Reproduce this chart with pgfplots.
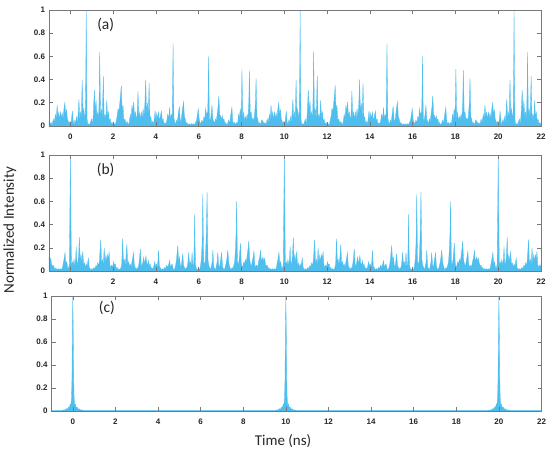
\documentclass[border=0pt]{standalone}
\usepackage{pgfplots}
\pgfplotsset{compat=1.18}
\usepackage{pgfplotstable}
\usepackage{fontspec}
\setmainfont{Carlito}
\newfontfamily\tickfont{Liberation Sans}

\definecolor{spk}{RGB}{77,190,238}
\definecolor{axgray}{RGB}{120,120,120}

% One 10 ns period of each intensity trace (the pattern repeats every 10 ns)
\pgfplotstableread{
t v
-1.05 0.05
-1.00 0.04
-0.95 0.02
-0.90 0.03
-0.85 0.01
-0.80 0.06
-0.75 0.03
-0.70 0.10
-0.66 0.06
-0.62 0.18
-0.58 0.08
-0.54 0.12
-0.50 0.05
-0.46 0.12
-0.42 0.07
-0.38 0.11
-0.34 0.06
-0.30 0.15
-0.26 0.20
-0.22 0.10
-0.18 0.14
-0.14 0.06
-0.10 0.04
-0.06 0.02
-0.02 0.04
0.02 0.01
0.06 0.07
0.09 0.13
0.13 0.04
0.17 0.01
0.21 0.05
0.25 0.02
0.28 0.08
0.32 0.03
0.36 0.10
0.40 0.23
0.44 0.06
0.48 0.12
0.51 0.05
0.55 0.40
0.59 0.10
0.63 0.15
0.67 0.05
0.70 0.12
0.72 0.45
0.74 1.00
0.76 0.45
0.78 0.06
0.82 0.01
0.86 0.02
0.90 0.01
0.95 0.04
0.99 0.06
1.03 0.01
1.07 0.10
1.12 0.31
1.16 0.12
1.20 0.22
1.24 0.08
1.28 0.12
1.32 0.05
1.35 0.30
1.37 0.64
1.41 0.08
1.45 0.15
1.49 0.06
1.54 0.43
1.58 0.05
1.62 0.10
1.66 0.05
1.70 0.22
1.74 0.08
1.78 0.12
1.82 0.04
1.86 0.06
1.90 0.02
1.95 0.03
2.00 0.01
2.05 0.02
2.10 0.01
2.15 0.05
2.19 0.09
2.23 0.15
2.27 0.12
2.31 0.20
2.35 0.28
2.38 0.35
2.42 0.12
2.46 0.18
2.50 0.05
2.55 0.06
2.60 0.02
2.65 0.04
2.70 0.01
2.75 0.03
2.80 0.10
2.84 0.06
2.88 0.18
2.92 0.12
2.96 0.21
3.00 0.08
3.04 0.12
3.08 0.05
3.12 0.10
3.16 0.30
3.20 0.08
3.24 0.12
3.28 0.05
3.32 0.12
3.36 0.06
3.40 0.15
3.44 0.08
3.48 0.18
3.52 0.40
3.56 0.10
3.60 0.20
3.64 0.08
3.68 0.37
3.72 0.06
3.76 0.08
3.80 0.02
3.84 0.04
3.88 0.01
3.92 0.06
3.96 0.13
4.00 0.05
4.04 0.11
4.08 0.06
4.12 0.12
4.16 0.04
4.20 0.08
4.26 0.13
4.30 0.04
4.34 0.06
4.38 0.01
4.42 0.03
4.46 0.01
4.50 0.04
4.55 0.10
4.59 0.06
4.64 0.16
4.68 0.05
4.72 0.10
4.76 0.08
4.78 0.35
4.80 0.71
4.82 0.35
4.84 0.07
4.88 0.03
4.92 0.02
4.96 0.05
5.00 0.03
5.04 0.10
5.09 0.17
5.13 0.06
5.17 0.03
5.21 0.10
5.25 0.16
5.29 0.21
5.33 0.08
5.37 0.06
5.41 0.02
5.45 0.03
5.50 0.01
5.55 0.02
5.60 0.01
5.65 0.02
5.70 0.01
5.75 0.02
5.80 0.01
5.85 0.03
5.90 0.05
5.94 0.10
5.98 0.15
6.02 0.06
6.06 0.03
6.10 0.02
6.15 0.05
6.20 0.03
6.24 0.08
6.28 0.05
6.32 0.15
6.36 0.10
6.42 0.12
6.44 0.30
6.46 0.60
6.48 0.30
6.50 0.06
6.54 0.05
6.58 0.10
6.62 0.18
6.66 0.06
6.70 0.04
6.74 0.02
6.78 0.06
6.82 0.04
6.86 0.10
6.90 0.16
6.94 0.26
6.98 0.10
7.02 0.09
7.06 0.05
7.10 0.09
7.14 0.05
7.18 0.06
7.22 0.02
7.26 0.03
7.30 0.01
7.35 0.02
7.40 0.05
7.44 0.02
7.50 0.10
7.55 0.16
7.59 0.04
7.63 0.02
7.68 0.03
7.72 0.01
7.77 0.03
7.82 0.02
7.86 0.10
7.90 0.06
7.94 0.15
7.98 0.08
8.00 0.25
8.02 0.49
8.06 0.06
8.10 0.12
8.14 0.04
8.18 0.08
8.22 0.05
8.26 0.10
8.30 0.06
8.34 0.20
8.37 0.48
8.41 0.10
8.45 0.12
8.49 0.05
8.53 0.07
8.57 0.04
8.61 0.10
8.65 0.20
8.68 0.41
8.72 0.08
8.76 0.06
8.80 0.02
8.85 0.03
8.90 0.01
8.95 0.05
}\traceA

\pgfplotstableread{
t v
-1.05 0.10
-1.00 0.12
-0.96 0.08
-0.92 0.11
-0.88 0.06
-0.84 0.04
-0.80 0.05
-0.76 0.02
-0.72 0.03
-0.68 0.01
-0.64 0.02
-0.60 0.01
-0.55 0.02
-0.50 0.01
-0.45 0.02
-0.40 0.01
-0.36 0.04
-0.32 0.08
-0.28 0.12
-0.25 0.16
-0.21 0.06
-0.17 0.08
-0.13 0.03
-0.09 0.02
-0.05 0.06
-0.03 0.40
0.00 1.00
0.03 0.40
0.05 0.04
0.09 0.08
0.13 0.05
0.17 0.10
0.21 0.04
0.25 0.12
0.27 0.21
0.31 0.05
0.35 0.08
0.38 0.12
0.42 0.29
0.46 0.08
0.50 0.14
0.54 0.07
0.58 0.17
0.62 0.05
0.66 0.07
0.70 0.03
0.74 0.06
0.78 0.04
0.84 0.11
0.88 0.03
0.92 0.02
0.96 0.01
1.00 0.02
1.05 0.01
1.10 0.03
1.15 0.02
1.20 0.05
1.24 0.03
1.28 0.07
1.32 0.04
1.36 0.10
1.42 0.27
1.46 0.06
1.50 0.10
1.54 0.05
1.58 0.20
1.62 0.07
1.66 0.14
1.70 0.08
1.74 0.14
1.78 0.10
1.81 0.17
1.85 0.05
1.89 0.03
1.93 0.05
1.97 0.03
2.02 0.08
2.06 0.05
2.10 0.06
2.14 0.02
2.18 0.03
2.22 0.01
2.26 0.02
2.30 0.01
2.35 0.02
2.40 0.06
2.44 0.28
2.48 0.08
2.52 0.10
2.56 0.05
2.60 0.12
2.64 0.23
2.68 0.06
2.72 0.08
2.76 0.04
2.80 0.06
2.84 0.03
2.88 0.08
2.92 0.12
2.95 0.16
2.99 0.05
3.03 0.03
3.08 0.01
3.12 0.03
3.16 0.02
3.20 0.06
3.24 0.12
3.27 0.19
3.31 0.06
3.35 0.04
3.39 0.08
3.43 0.12
3.47 0.06
3.50 0.09
3.53 0.13
3.57 0.07
3.61 0.05
3.65 0.09
3.69 0.04
3.73 0.06
3.77 0.02
3.81 0.03
3.85 0.01
3.90 0.04
3.94 0.08
3.98 0.04
4.02 0.06
4.06 0.03
4.09 0.08
4.12 0.18
4.16 0.04
4.20 0.03
4.25 0.01
4.30 0.02
4.35 0.01
4.40 0.03
4.45 0.02
4.50 0.05
4.55 0.03
4.60 0.06
4.64 0.09
4.68 0.03
4.72 0.05
4.76 0.06
4.80 0.02
4.84 0.01
4.88 0.02
4.92 0.05
4.96 0.10
5.02 0.22
5.06 0.08
5.10 0.12
5.14 0.05
5.18 0.04
5.21 0.08
5.25 0.15
5.29 0.05
5.33 0.03
5.37 0.01
5.41 0.03
5.45 0.02
5.49 0.07
5.53 0.16
5.57 0.06
5.61 0.08
5.65 0.04
5.69 0.16
5.73 0.03
5.77 0.08
5.79 0.25
5.81 0.49
5.83 0.20
5.85 0.05
5.89 0.02
5.94 0.01
5.99 0.02
6.04 0.01
6.08 0.04
6.12 0.10
6.16 0.25
6.19 0.66
6.23 0.08
6.27 0.05
6.31 0.10
6.35 0.30
6.39 0.68
6.43 0.10
6.47 0.05
6.51 0.03
6.55 0.01
6.59 0.04
6.63 0.08
6.66 0.18
6.70 0.04
6.74 0.02
6.78 0.01
6.82 0.04
6.86 0.08
6.89 0.16
6.93 0.05
6.97 0.03
7.01 0.08
7.04 0.12
7.07 0.16
7.11 0.04
7.15 0.02
7.19 0.01
7.23 0.03
7.27 0.06
7.31 0.10
7.36 0.18
7.40 0.08
7.44 0.04
7.48 0.02
7.52 0.01
7.56 0.03
7.60 0.02
7.64 0.05
7.68 0.08
7.72 0.20
7.75 0.35
7.77 0.60
7.81 0.08
7.85 0.05
7.89 0.10
7.95 0.24
7.99 0.07
8.03 0.03
8.07 0.05
8.11 0.08
8.15 0.06
8.19 0.10
8.23 0.08
8.27 0.14
8.31 0.20
8.34 0.26
8.38 0.10
8.42 0.06
8.46 0.04
8.50 0.08
8.54 0.12
8.58 0.17
8.62 0.06
8.66 0.03
8.70 0.05
8.74 0.03
8.78 0.06
8.82 0.10
8.85 0.12
8.89 0.18
8.93 0.06
8.95 0.10
}\traceB

\pgfplotstableread{
t v
-1.05 0.004
-0.50 0.004
-0.42 0.010
-0.36 0.008
-0.30 0.020
-0.25 0.015
-0.20 0.035
-0.16 0.030
-0.12 0.060
-0.09 0.050
-0.06 0.12
-0.04 0.28
-0.02 0.70
0.00 1.00
0.02 0.70
0.04 0.28
0.06 0.12
0.09 0.050
0.12 0.060
0.16 0.030
0.20 0.035
0.25 0.015
0.30 0.020
0.36 0.008
0.42 0.010
0.50 0.004
8.95 0.004
}\traceC

\pgfplotsset{
  panel/.style={
    scale only axis, width=492pt, height=116pt,
    xmin=-1, xmax=22, ymin=0, ymax=1,
    xtick={0,2,4,6,8,10,12,14,16,18,20,22},
    ytick={0,0.2,0.4,0.6,0.8,1},
    tick align=inside, major tick length=4pt,
    axis line style={axgray, line width=0.6pt},
    every tick/.style={axgray, line width=0.6pt},
    tick label style={font=\tickfont\bfseries\fontsize{8}{9}\selectfont, text=black!85},
    /pgf/number format/assume math mode=true,
    xticklabel style={yshift=-4.5pt},
    yticklabel style={xshift=-0.5pt},
    axis on top,
  },
}
\tikzset{
  trace/.style={fill=spk, draw=spk, line width=0.3pt},
  paneltag/.style={font=\fontsize{15.5}{18}\selectfont, text=black!85},
}

\begin{document}
\begin{tikzpicture}
\path[use as bounding box] (0,0) rectangle (549pt,448pt);

% (a)
\begin{axis}[panel, at={(49pt,322pt)}, anchor=south west]
\addplot[trace] table[x=t, y=v] {\traceA} \closedcycle;
\addplot[trace] table[x expr=\thisrow{t}+10, y=v] {\traceA} \closedcycle;
\addplot[trace] table[x expr=\thisrow{t}+20, y=v] {\traceA} \closedcycle;
\node[paneltag] at (axis cs:1.65,0.87) {(a)};
\end{axis}

% (b)
\begin{axis}[panel, at={(49pt,177pt)}, anchor=south west]
\addplot[trace] table[x=t, y=v] {\traceB} \closedcycle;
\addplot[trace] table[x expr=\thisrow{t}+10, y=v] {\traceB} \closedcycle;
\addplot[trace] table[x expr=\thisrow{t}+20, y=v] {\traceB} \closedcycle;
\node[paneltag] at (axis cs:1.65,0.87) {(b)};
\end{axis}

% (c)
\begin{axis}[panel, width=490pt, height=115pt, at={(51.5pt,37pt)}, anchor=south west]
\addplot[trace] table[x=t, y=v] {\traceC} \closedcycle;
\addplot[trace] table[x expr=\thisrow{t}+10, y=v] {\traceC} \closedcycle;
\addplot[trace] table[x expr=\thisrow{t}+20, y=v] {\traceC} \closedcycle;
\node[paneltag] at (axis cs:1.6,0.90) {(c)};
\end{axis}

\node[font=\fontsize{15}{18}\selectfont, text=black!85] at (283pt,7pt) {Time (ns)};
\node[font=\fontsize{15}{18}\selectfont, text=black!85, rotate=90] at (10pt,218pt) {Normalized Intensity};
\end{tikzpicture}
\end{document}
